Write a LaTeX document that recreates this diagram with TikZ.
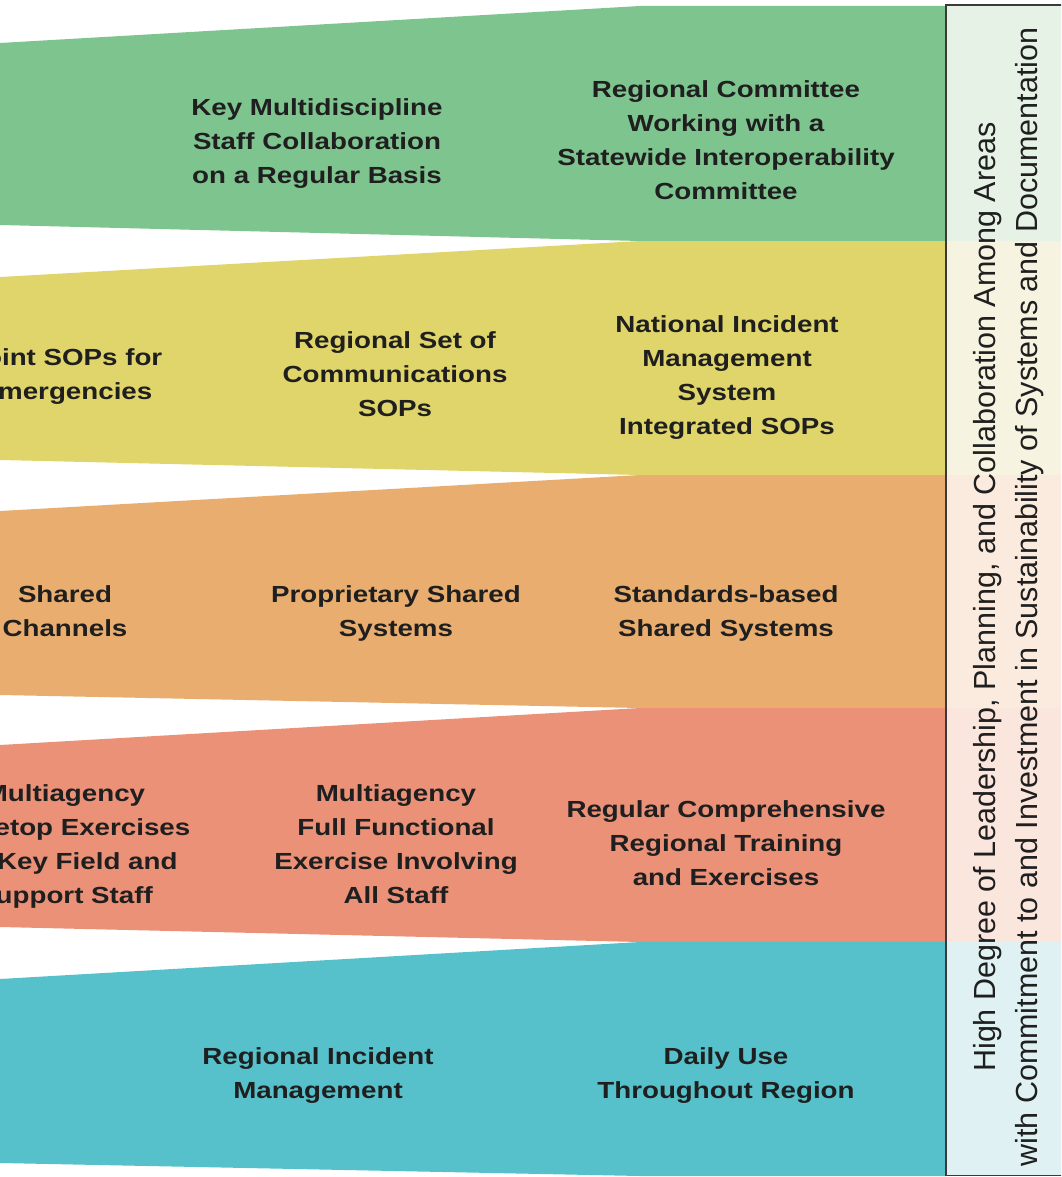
\documentclass[tikz,border=0pt]{standalone}
\usepackage{fontspec}
\setmainfont{Liberation Sans}
\newfontface\bandfont{Liberation Sans Bold}[FakeStretch=1.19]
\definecolor{bgreen}{HTML}{7EC48F}
\definecolor{byellow}{HTML}{E0D56B}
\definecolor{borange}{HTML}{E9AE6F}
\definecolor{bsalmon}{HTML}{EA9178}
\definecolor{bteal}{HTML}{56C1CB}
\definecolor{tgreen}{HTML}{E6F2E6}
\definecolor{tyellow}{HTML}{F6F3E1}
\definecolor{torange}{HTML}{FBEBDF}
\definecolor{tsalmon}{HTML}{FBE6DE}
\definecolor{tteal}{HTML}{DFF1F2}
\definecolor{txt}{HTML}{1F1F1F}
\definecolor{frame}{HTML}{3A3A3A}
\begin{document}
\begin{tikzpicture}[x=1pt,y=-1pt,
  lbl/.style={anchor=north, inner sep=0pt, align=center, text=txt,
    font={\bandfont\fontsize{23.3}{34}\selectfont}},
  sidetext/.style={anchor=north, inner sep=0pt, align=center, rotate=90, text=txt,
    font={\fontsize{30.5}{41.7}\selectfont}},
  panel/.style={draw=frame, line width=1.8pt}
]
\useasboundingbox (0,0) rectangle (1061,1177);
\clip (0,0) rectangle (1061,1177);
\fill[white] (0,0) rectangle (1061,1177);

% bands
\fill[bgreen]  (0,43)  -- (640,6)   -- (946,6)   -- (946,241)  -- (640,241)  -- (0,225)  -- cycle;
\fill[byellow] (0,277) -- (640,241) -- (946,241) -- (946,475)  -- (640,475)  -- (0,460)  -- cycle;
\fill[borange] (0,511) -- (640,475) -- (946,475) -- (946,708)  -- (640,708)  -- (0,695)  -- cycle;
\fill[bsalmon] (0,745) -- (640,708) -- (946,708) -- (946,942)  -- (640,942)  -- (0,927)  -- cycle;
\fill[bteal]   (0,979) -- (640,942) -- (946,942) -- (946,1176) -- (640,1176) -- (0,1163) -- cycle;

% side panel tints
\fill[tgreen]  (946,6)   rectangle (1070,241);
\fill[tyellow] (946,241) rectangle (1070,475);
\fill[torange] (946,475) rectangle (1070,708);
\fill[tsalmon] (946,708) rectangle (1070,942);
\fill[tteal]   (946,942) rectangle (1070,1175);
\draw[panel] (1070,5) -- (946,5) -- (946,1175.5) -- (1070,1175.5);

% band texts
\node[lbl] (b0c2) at (317,98)  {Key Multidiscipline\\Staff Collaboration\\on a Regular Basis};
\node[lbl] (b0c3) at (726,80)  {Regional Committee\\Working with a\\Statewide Interoperability\\Committee};

\node[lbl] (b1c1) at (66,348)  {Joint SOPs for\\Emergencies};
\node[lbl] (b1c2) at (395,331) {Regional Set of\\Communications\\SOPs};
\node[lbl] (b1c3) at (727,315) {National Incident\\Management\\System\\Integrated SOPs};

\node[lbl] (b2c1) at (65,585)  {Shared\\Channels};
\node[lbl] (b2c2) at (396,585) {Proprietary Shared\\Systems};
\node[lbl] (b2c3) at (726,585) {Standards-based\\Shared Systems};

\node[lbl] (b3c1) at (65,784)  {Multiagency\\Tabletop Exercises\\for Key Field and\\Support Staff};
\node[lbl] (b3c2) at (396,784) {Multiagency\\Full Functional\\Exercise Involving\\All Staff};
\node[lbl] (b3c3) at (726,800) {Regular Comprehensive\\Regional Training\\and Exercises};

\node[lbl] (b4c2) at (318,1047) {Regional Incident\\Management};
\node[lbl] (b4c3) at (726,1047) {Daily Use\\Throughout Region};

% side text
\node[sidetext] (side) at (973,597) {High Degree of Leadership, Planning, and Collaboration Among Areas\\with Commitment to and Investment in Sustainability of Systems and Documentation};
\end{tikzpicture}
\end{document}
